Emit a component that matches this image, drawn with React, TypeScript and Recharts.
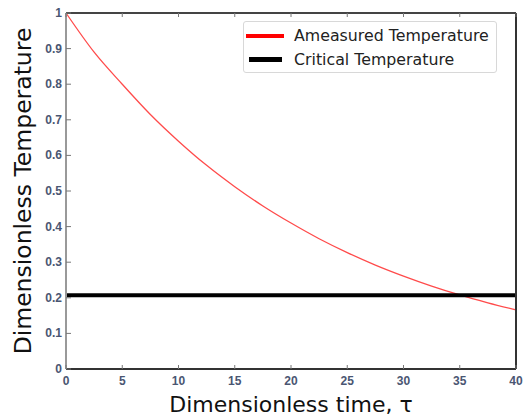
import React from 'react';
import { LineChart, Line, XAxis, YAxis, Legend } from 'recharts';

const times = [0, 2.5, 5, 7.5, 10, 12.5, 15, 17.5, 20, 22.5, 25, 27.5, 30, 32.5, 35, 37.5, 40];
const measured = [1.0, 0.89, 0.8, 0.715, 0.64, 0.572, 0.512, 0.458, 0.41, 0.366, 0.327, 0.292, 0.261, 0.233, 0.208, 0.186, 0.166];
const critical = [0.207, 0.207, 0.207, 0.207, 0.207, 0.207, 0.207, 0.207, 0.207, 0.207, 0.207, 0.207, 0.207, 0.207, 0.207, 0.207, 0.207];
const xTicks = [0, 5, 10, 15, 20, 25, 30, 35, 40];
const yTicks = [0, 0.1, 0.2, 0.3, 0.4, 0.5, 0.6, 0.7, 0.8, 0.9, 1];
const seriesNames = ['Ameasured Temperature', 'Critical Temperature'];

const data = times.map((t, i) => ({ t, measured: measured[i], critical: critical[i] }));

const tickFont = { fontFamily: 'Liberation Sans, Arial, sans-serif', fontSize: 12, fill: '#4a5672', fontWeight: 700 as const };

const fmt = (v: number) => (v === 0 ? '0' : v === 1 ? '1' : v.toFixed(1));

const LeftTick = (p: any) => (
  <g>
    <line x1={p.x} x2={p.x + 5} y1={p.y} y2={p.y} stroke="#777" strokeWidth={1} />
    <text x={p.x - 4} y={p.y} dy={4} textAnchor="end" {...tickFont}>{fmt(p.payload.value)}</text>
  </g>
);
const RightTick = (p: any) => (
  <g>
    <line x1={p.x - 5} x2={p.x} y1={p.y} y2={p.y} stroke="#777" strokeWidth={1} />
  </g>
);
const BottomTick = (p: any) => (
  <g>
    <line x1={p.x} x2={p.x} y1={p.y - 4} y2={p.y} stroke="#777" strokeWidth={1} />
    <text x={p.x} y={p.y} dy={16} textAnchor="middle" {...tickFont}>{p.payload.value}</text>
  </g>
);
const TopTick = (p: any) => (
  <g>
    <line x1={p.x} x2={p.x} y1={p.y} y2={p.y + 4} stroke="#777" strokeWidth={1} />
  </g>
);

const LegendBox = () => (
  <div
    style={{
      border: '1px solid #d8d8d8',
      borderRadius: 3,
      background: '#fff',
      width: 254,
      height: 52,
      boxSizing: 'border-box',
      fontFamily: 'DejaVu Sans, sans-serif',
      fontSize: 15.8,
      color: '#222',
      paddingTop: 2,
      textAlign: 'left',
    }}
  >
    {seriesNames.map((n, i) => (
      <div key={n} style={{ display: 'flex', alignItems: 'center', height: 23.5 }}>
        <div
          style={{
            width: i === 0 ? 38 : 33,
            height: i === 0 ? 4 : 5,
            background: i === 0 ? '#ff0000' : '#000',
            marginLeft: i === 0 ? 2 : 5,
            marginRight: i === 0 ? 10 : 12,
          }}
        />
        <span>{n}</span>
      </div>
    ))}
  </div>
);

export default function App() {
  return (
    <div style={{ position: 'absolute', left: 0, top: 0, background: '#fff' }}>
      <LineChart width={524} height={416} data={data} margin={{ top: 0, right: 0, bottom: 0, left: 0 }}>
        <XAxis
          dataKey="t"
          type="number"
          domain={[0, 40]}
          ticks={xTicks}
          height={47}
          tickSize={0}
          tickMargin={0}
          tickLine={false}
          tick={<BottomTick />}
          axisLine={{ stroke: '#333', strokeWidth: 2 }}
          label={{ value: 'Dimensionless time, τ', position: 'center', dy: 12, style: { fontFamily: 'DejaVu Sans, sans-serif', fontSize: 22, fill: '#111' } }}
        />
        <XAxis
          xAxisId="top"
          dataKey="t"
          type="number"
          orientation="top"
          domain={[0, 40]}
          ticks={xTicks}
          height={13}
          tickSize={0}
          tickMargin={0}
          tickLine={false}
          tick={<TopTick />}
          axisLine={{ stroke: '#444', strokeWidth: 2 }}
        />
        <YAxis
          type="number"
          domain={[0, 1]}
          ticks={yTicks}
          width={66}
          tickSize={0}
          tickMargin={0}
          tickLine={false}
          tick={<LeftTick />}
          axisLine={{ stroke: '#999', strokeWidth: 2 }}
          label={{ value: 'Dimensionless Temperature', angle: -90, position: 'center', dx: -10, style: { fontFamily: 'DejaVu Sans, sans-serif', fontSize: 23.5, fill: '#111' } }}
        />
        <YAxis
          yAxisId="right"
          orientation="right"
          type="number"
          domain={[0, 1]}
          ticks={yTicks}
          width={8}
          tickSize={0}
          tickMargin={0}
          tickLine={false}
          tick={<RightTick />}
          axisLine={{ stroke: '#333', strokeWidth: 2 }}
        />
        <Legend
          content={<LegendBox />}
          layout="horizontal"
          verticalAlign="middle"
          align="center"
          wrapperStyle={{ left: 243, top: 21, width: 254, height: 52 }}
        />
        <Line
          dataKey="measured"
          name={seriesNames[0]}
          stroke="#ff4b4b"
          strokeWidth={1.3}
          dot={false}
          type="monotone"
          isAnimationActive={false}
        />
        <Line
          dataKey="critical"
          name={seriesNames[1]}
          stroke="#000"
          strokeWidth={4}
          dot={false}
          type="linear"
          isAnimationActive={false}
        />
      </LineChart>
    </div>
  );
}
